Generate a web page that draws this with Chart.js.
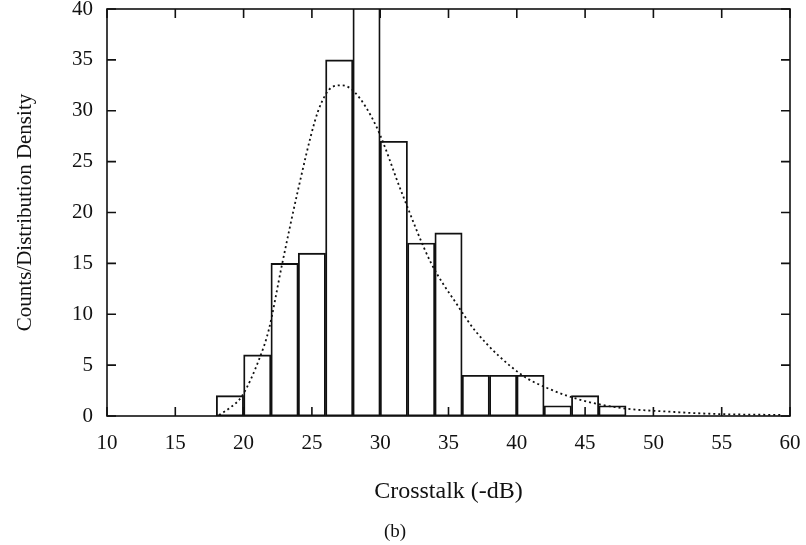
<!DOCTYPE html>
<html>
<head>
<meta charset="utf-8">
<script src="https://cdn.jsdelivr.net/npm/chart.js@4.4.0/dist/chart.umd.min.js"></script>
<style>
html, body { margin: 0; padding: 0; background: #fff; }
#wrap { width: 806px; height: 545px; }
</style>
</head>
<body>
<div id="wrap"><canvas id="crosstalkChart"></canvas></div>
<script>
// histogram bins, 2 dB wide (centres)
var binCenters = [19, 21, 23, 25, 27, 29, 31, 33, 35, 37, 39, 41, 43, 45, 47];
var binCounts  = [2, 6, 15, 16, 35, 42, 27, 17, 18, 4, 4, 4, 1, 2, 1];

// fitted distribution density
var curveX = [18.2, 19.0, 19.9, 21.2, 21.85, 22.8, 24.0, 25.2, 25.7, 26.45, 27.2, 28.15, 29.7, 31.65, 33.7, 35.65, 37.0, 40.3, 42.4, 44.9, 47.8, 51.2, 54.6, 59.4];
var curveY = [0.1, 0.8, 2.0, 5.8, 8.5, 14.8, 22.3, 28.9, 30.8, 32.3, 32.5, 31.8, 28.5, 21.7, 15.1, 10.9, 8.3, 4.1, 2.65, 1.5, 0.76, 0.42, 0.2, 0.1];

var xTicks = [10, 15, 20, 25, 30, 35, 40, 45, 50, 55, 60];
var yTicks = [0, 5, 10, 15, 20, 25, 30, 35, 40];

var ink = '#111';
var serif = '"Liberation Serif", "DejaVu Serif", serif';

// frame round the plot plus inward tick marks on all four sides
var frameTicks = {
    id: 'frameTicks',
    afterDatasetsDraw: function(chart) {
        var a = chart.chartArea, ctx = chart.ctx;
        var xs = chart.scales.x, ys = chart.scales.y, len = 9;
        ctx.save();
        ctx.strokeStyle = ink;
        ctx.lineWidth = 1.6;
        ctx.strokeRect(a.left, a.top, a.right - a.left, a.bottom - a.top);
        ctx.beginPath();
        xs.ticks.forEach(function(t) {
            var px = xs.getPixelForValue(t.value);
            ctx.moveTo(px, a.bottom); ctx.lineTo(px, a.bottom - len);
            ctx.moveTo(px, a.top); ctx.lineTo(px, a.top + len);
        });
        ys.ticks.forEach(function(t) {
            var py = ys.getPixelForValue(t.value);
            ctx.moveTo(a.left, py); ctx.lineTo(a.left + len, py);
            ctx.moveTo(a.right, py); ctx.lineTo(a.right - len, py);
        });
        ctx.stroke();
        ctx.restore();
    }
};

var barData = binCenters.map(function(c, i) { return { x: c, y: binCounts[i] }; });
var curveData = curveX.map(function(v, i) { return { x: v, y: curveY[i] }; });

new Chart(document.getElementById('crosstalkChart'), {
    type: 'bar',
    data: {
        datasets: [{
            type: 'line',
            label: 'Distribution density',
            data: curveData,
            borderColor: ink,
            borderWidth: 1.8,
            borderDash: [2, 3],
            pointRadius: 0,
            fill: false,
            cubicInterpolationMode: 'monotone'
        }, {
            label: 'Counts',
            data: barData,
            backgroundColor: 'rgba(255,255,255,0)',
            borderColor: ink,
            borderWidth: 1.2,
            borderSkipped: false,
            barPercentage: 1,
            categoryPercentage: 1
        }]
    },
    options: {
        responsive: true,
        maintainAspectRatio: false,
        animation: false,
        layout: { padding: { left: 0, right: 16, top: 9, bottom: 0 } },
        plugins: {
            legend: { display: false },
            tooltip: { enabled: false },
            title: {
                display: true,
                position: 'bottom',
                text: '(b)',
                color: ink,
                font: { family: serif, size: 19, weight: 'normal' },
                padding: { top: 0, bottom: 2 }
            }
        },
        scales: {
            x: {
                type: 'linear',
                min: 10,
                max: 60,
                offset: false,
                afterBuildTicks: function(s) { s.ticks = xTicks.map(function(v) { return { value: v }; }); },
                afterFit: function(s) { s.height = 104.2; s.paddingLeft = 0; s.paddingRight = 0; },
                grid: { display: false, drawTicks: false },
                border: { display: false },
                ticks: { color: ink, padding: 15, maxRotation: 0, font: { family: serif, size: 21 } },
                title: {
                    display: true,
                    text: 'Crosstalk (-dB)',
                    color: ink,
                    font: { family: serif, size: 24 },
                    padding: { top: 0, bottom: 14 }
                }
            },
            y: {
                min: 0,
                max: 40,
                afterBuildTicks: function(s) { s.ticks = yTicks.map(function(v) { return { value: v }; }); },
                afterFit: function(s) { s.width = 107; s.paddingTop = 0; s.paddingBottom = 0; },
                grid: { display: false, drawTicks: false },
                border: { display: false },
                ticks: { color: ink, padding: 14, font: { family: serif, size: 21 } },
                title: {
                    display: true,
                    text: 'Counts/Distribution Density',
                    color: ink,
                    font: { family: serif, size: 21 },
                    padding: { top: 13, bottom: 0 }
                }
            }
        }
    },
    plugins: [frameTicks]
});
</script>
</body>
</html>
